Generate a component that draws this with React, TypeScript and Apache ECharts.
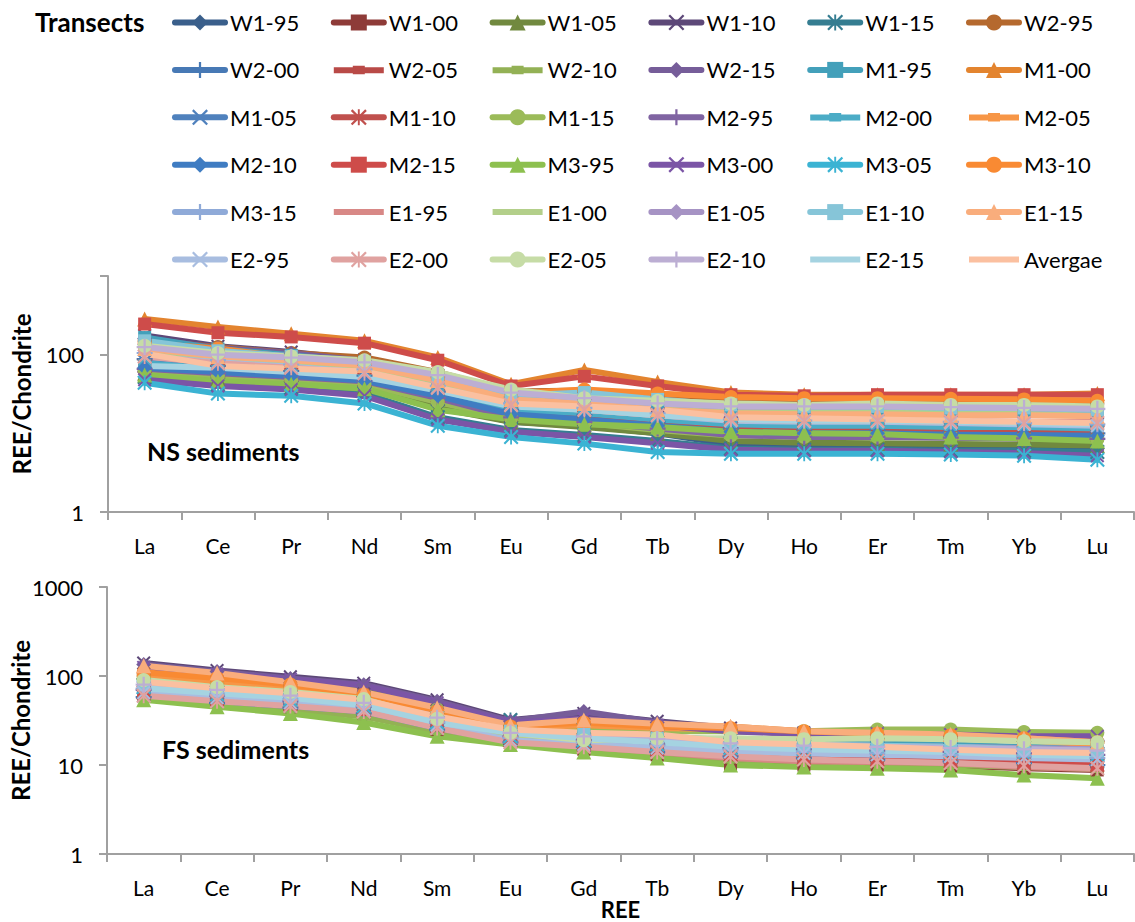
import React, { useEffect, useRef } from "react";
import * as echarts from "echarts";

// ---------- categories ----------
const categories = ["La", "Ce", "Pr", "Nd", "Sm", "Eu", "Gd", "Tb", "Dy", "Ho", "Er", "Tm", "Yb", "Lu"];

const seriesNames = [
  "W1-95", "W1-00", "W1-05", "W1-10", "W1-15", "W2-95",
  "W2-00", "W2-05", "W2-10", "W2-15", "M1-95", "M1-00",
  "M1-05", "M1-10", "M1-15", "M2-95", "M2-00", "M2-05",
  "M2-10", "M2-15", "M3-95", "M3-00", "M3-05", "M3-10",
  "M3-15", "E1-95", "E1-00", "E1-05", "E1-10", "E1-15",
  "E2-95", "E2-00", "E2-05", "E2-10", "E2-15", "Avergae",
];

const seriesColors = [
  "#3A5F8B", "#8E3B38", "#71893F", "#5D4878", "#357D91", "#B5692E",
  "#4779B5", "#B94A47", "#93B155", "#765D99", "#43A0BA", "#E3842F",
  "#4F81BD", "#C0504D", "#9BBB59", "#8064A2", "#4BACC6", "#F79646",
  "#3F7CC2", "#CE4C4A", "#8DC04F", "#7B55A6", "#3BB3D3", "#F98A33",
  "#8FAAD8", "#D88886", "#B3CF8A", "#A693C4", "#86C5D8", "#F9AD7C",
  "#A8BDE0", "#E0A2A0", "#C6DCA6", "#BCAED3", "#A5D3E1", "#FBC0A0",
];

const seriesMarkers = [
  "diamond", "square", "triangle", "x", "star", "circle",
  "plus", "dash", "dash", "diamond", "square", "triangle",
  "x", "star", "circle", "plus", "dash", "dash",
  "diamond", "square", "triangle", "x", "star", "circle",
  "plus", "none", "none", "diamond", "square", "triangle",
  "x", "star", "circle", "plus", "none", "none",
];

// ---------- NS sediments (REE/Chondrite) ----------
const ns_W1_95 = [60, 52, 46, 40, 23, 14, 12.5, 10, 7.2, 6.8, 6.6, 6.4, 6.5, 6.4];
const ns_W1_00 = [70, 60, 53, 45, 29, 17, 15, 12.5, 10.5, 10, 10, 9.8, 9.5, 9.4];
const ns_W1_05 = [58, 50, 45, 39, 21, 14, 12, 10, 8, 7.6, 7.5, 7.3, 7.2, 7];
const ns_W1_10 = [175, 128, 108, 86, 55, 30, 28, 22, 17, 15, 14.5, 14, 13.5, 13];
const ns_W1_15 = [52, 42, 38, 32, 16, 11, 9.5, 8, 6.4, 6.2, 6.2, 6, 6, 5.8];
const ns_W2_95 = [150, 125, 105, 92, 60, 34, 35, 30, 26, 25, 25, 24, 24, 24];
const ns_W2_00 = [88, 72, 62, 54, 34, 20, 17, 14, 11.5, 11, 11, 10.5, 10.2, 10];
const ns_W2_05 = [75, 66, 58, 50, 32, 19, 17, 14, 12, 11.5, 11.5, 11, 11, 10.8];
const ns_W2_10 = [62, 55, 50, 44, 27, 16, 14, 12, 10, 9.6, 9.5, 9.3, 9, 8.8];
const ns_W2_15 = [160, 122, 104, 84, 52, 29, 27, 21, 16, 14.5, 14, 13.5, 13, 12.5];
const ns_M1_95 = [165, 118, 98, 80, 50, 28, 30, 25, 21, 20, 20, 19.5, 19, 19];
const ns_M1_00 = [285, 225, 185, 150, 92, 42, 64, 45, 33, 31, 31, 31, 31, 32];
const ns_M1_05 = [82, 68, 60, 52, 33, 19, 17, 14, 12, 11.5, 11.5, 11, 10.8, 10.5];
const ns_M1_10 = [72, 62, 55, 48, 30, 18, 16, 13.5, 11.5, 11, 11, 10.5, 10.5, 10.2];
const ns_M1_15 = [64, 54, 48, 42, 25, 15.5, 13.5, 11, 9.4, 9, 9, 8.8, 8.6, 8.4];
const ns_M2_95 = [66, 58, 52, 46, 28, 16, 14, 11.5, 9.5, 9, 9, 8.8, 8.6, 8.5];
const ns_M2_00 = [78, 66, 58, 50, 33, 20, 18, 15, 13, 12.5, 12.5, 12, 12, 11.5];
const ns_M2_05 = [130, 105, 90, 75, 48, 28, 30, 26, 23, 22, 22, 21, 21, 21];
const ns_M2_10 = [68, 60, 54, 47, 30, 17.5, 15, 12.5, 10.5, 10, 10, 9.6, 9.5, 9.3];
const ns_M2_15 = [245, 190, 168, 140, 85, 40, 53, 40, 31, 30, 31, 31, 31, 31];
const ns_M3_95 = [55, 46, 42, 37, 20, 15, 13, 12, 10.5, 10, 9.8, 9, 8.6, 8];
const ns_M3_00 = [48, 40, 36, 30, 15, 10.5, 9, 7.5, 6.2, 6, 6, 5.8, 5.6, 5.2];
const ns_M3_05 = [44, 32, 30, 24, 12.5, 9, 7.4, 5.8, 5.5, 5.5, 5.5, 5.4, 5.2, 4.6];
const ns_M3_10 = [140, 120, 92, 78, 50, 32, 36, 32, 29, 28, 28, 27.5, 27, 26];
const ns_M3_15 = [105, 85, 75, 65, 40, 24, 21, 18, 15, 14.5, 14.5, 14, 13.5, 13];
const ns_E1_95 = [100, 82, 70, 62, 40, 24, 21, 18, 15.5, 15, 15, 14.5, 14, 14];
const ns_E1_00 = [100, 85, 75, 66, 45, 27, 25, 21, 19, 18.5, 18.5, 18, 18, 17.5];
const ns_E1_05 = [135, 108, 96, 82, 55, 33, 28, 24, 22, 22, 22, 21.5, 21, 20];
const ns_E1_10 = [150, 112, 95, 80, 52, 30, 33, 27, 23, 22, 22, 21, 21, 20];
const ns_E1_15 = [120, 95, 85, 73, 47, 27, 24, 20, 18, 17.5, 17.5, 17, 17, 16.5];
const ns_E2_95 = [95, 80, 70, 60, 38, 23, 20, 17, 14.5, 14, 14, 13.5, 13, 12.5];
const ns_E2_00 = [95, 78, 68, 58, 38, 23, 20, 17, 15, 14.5, 14.5, 14, 13.5, 13.5];
const ns_E2_05 = [130, 105, 95, 85, 60, 36, 28, 26, 24, 23, 24, 23, 23, 22];
const ns_E2_10 = [125, 100, 92, 80, 55, 33, 28, 24, 22, 22, 22, 21.5, 21, 20.5];
const ns_E2_15 = [72, 68, 60, 52, 35, 22, 20, 17, 15, 14.5, 14.5, 14, 13.5, 13];
const ns_Avergae = [103, 72, 66, 61, 38, 24, 22, 20, 16, 15.5, 15, 14.5, 14, 13.5];

// ---------- FS sediments (REE/Chondrite) ----------
const fs_W1_95 = [56, 48, 42, 36, 24, 17, 15, 13.5, 12, 11.5, 11, 10.5, 10, 9.5];
const fs_W1_00 = [62, 52, 45, 38, 25, 18, 15, 13, 10.2, 10, 10, 9.8, 9.2, 8.8];
const fs_W1_05 = [110, 92, 85, 70, 45, 28, 27, 25, 24, 23, 24, 24, 22, 22];
const fs_W1_10 = [140, 115, 98, 83, 54, 32, 38, 31, 26, 23, 23, 22, 21, 20];
const fs_W1_15 = [80, 66, 58, 50, 34, 32, 25, 21, 17, 16, 15.5, 15, 14, 13.5];
const fs_W2_95 = [105, 90, 78, 64, 42, 27, 29, 26, 25, 23, 22, 21, 19, 18];
const fs_W2_00 = [58, 50, 44, 38, 25, 18, 16, 14, 12.5, 12, 11.5, 11, 10.5, 10];
const fs_W2_05 = [68, 58, 50, 43, 28, 20, 17.5, 15.5, 13, 12.5, 12, 11.5, 11, 10.5];
const fs_W2_10 = [58, 48, 42, 35, 24, 17, 15, 13, 11.5, 11, 10.5, 10, 9.5, 9];
const fs_W2_15 = [135, 112, 94, 80, 52, 31, 40, 30, 25, 22, 22, 21, 20, 19];
const fs_M1_95 = [85, 72, 62, 52, 36, 25, 23, 21, 19, 18, 17.5, 17, 16, 15.5];
const fs_M1_00 = [120, 100, 82, 64, 42, 27, 31, 28, 27, 24, 23, 22, 19.5, 17.5];
const fs_M1_05 = [60, 52, 46, 40, 26, 18.5, 16.5, 14.5, 13, 12.5, 12, 11.5, 11, 10.5];
const fs_M1_10 = [65, 55, 48, 41, 27, 19, 17, 15, 13, 12, 11.5, 11, 10.5, 10];
const fs_M1_15 = [95, 80, 72, 62, 42, 26, 26, 24, 24, 24, 25, 25, 23.5, 23];
const fs_M2_95 = [70, 60, 52, 45, 30, 21, 19, 17, 15.5, 15, 14.5, 14, 13.5, 13];
const fs_M2_00 = [70, 60, 52, 44, 28, 20, 18, 16, 14.5, 14, 13.5, 13, 12.5, 12];
const fs_M2_05 = [100, 85, 75, 60, 40, 26, 28, 26, 25, 23, 22, 21, 19, 17];
const fs_M2_10 = [64, 55, 48, 41, 27, 19, 17, 15, 13.5, 13, 12.5, 12, 11.5, 11];
const fs_M2_15 = [66, 56, 48, 42, 28, 20, 17, 15, 13, 12, 11.5, 11, 10.5, 10];
const fs_M3_95 = [54, 45, 38, 30, 21, 17, 14, 12, 10, 9.5, 9.2, 8.8, 7.7, 7.1];
const fs_M3_00 = [125, 105, 92, 78, 50, 30, 33, 28, 24, 22, 22.5, 22, 21, 21];
const fs_M3_05 = [75, 62, 54, 46, 30, 21, 19, 17, 15.5, 15, 14.5, 14, 13.5, 13];
const fs_M3_10 = [110, 95, 80, 62, 40, 27, 30, 27, 26, 24, 22.5, 21.5, 20, 18];
const fs_M3_15 = [72, 62, 55, 46, 30, 20, 18, 16.5, 15, 14, 13.5, 13, 12.5, 12];
const fs_E1_95 = [62, 54, 47, 40, 27, 19, 16, 14, 12, 11, 10.8, 10.5, 9.5, 9];
const fs_E1_00 = [78, 66, 58, 48, 32, 22, 20, 19, 17, 16, 15.5, 15, 14.5, 14];
const fs_E1_05 = [85, 72, 62, 52, 35, 24, 22, 20, 18, 17, 16.5, 16, 15.5, 15];
const fs_E1_10 = [80, 68, 58, 50, 34, 24, 22, 20, 18, 17, 16.5, 16, 15, 14.5];
const fs_E1_15 = [130, 108, 85, 66, 44, 28, 32, 29, 27, 24, 23, 22, 20, 18];
const fs_E2_95 = [65, 57, 50, 42, 28, 19, 17, 15.5, 14, 13.5, 13, 12.5, 12, 11.5];
const fs_E2_00 = [60, 52, 46, 40, 26, 18, 16, 14, 12.5, 11.5, 11, 10.5, 9.8, 9.2];
const fs_E2_05 = [90, 75, 66, 55, 33, 23, 19, 20, 20, 19.5, 20, 19.5, 18.5, 18];
const fs_E2_10 = [80, 70, 60, 50, 34, 23, 21, 19.5, 17.5, 16.5, 16, 15.5, 15, 14.5];
const fs_E2_15 = [73, 64, 57, 47, 30, 23, 20, 18, 16, 15, 14.5, 14, 13, 12.5];
const fs_Avergae = [86, 73, 64, 54, 35, 25, 23, 22, 18, 17, 16, 14.8, 14, 13.6];

const nsData = [
  ns_W1_95, ns_W1_00, ns_W1_05, ns_W1_10, ns_W1_15, ns_W2_95,
  ns_W2_00, ns_W2_05, ns_W2_10, ns_W2_15, ns_M1_95, ns_M1_00,
  ns_M1_05, ns_M1_10, ns_M1_15, ns_M2_95, ns_M2_00, ns_M2_05,
  ns_M2_10, ns_M2_15, ns_M3_95, ns_M3_00, ns_M3_05, ns_M3_10,
  ns_M3_15, ns_E1_95, ns_E1_00, ns_E1_05, ns_E1_10, ns_E1_15,
  ns_E2_95, ns_E2_00, ns_E2_05, ns_E2_10, ns_E2_15, ns_Avergae,
];
const fsData = [
  fs_W1_95, fs_W1_00, fs_W1_05, fs_W1_10, fs_W1_15, fs_W2_95,
  fs_W2_00, fs_W2_05, fs_W2_10, fs_W2_15, fs_M1_95, fs_M1_00,
  fs_M1_05, fs_M1_10, fs_M1_15, fs_M2_95, fs_M2_00, fs_M2_05,
  fs_M2_10, fs_M2_15, fs_M3_95, fs_M3_00, fs_M3_05, fs_M3_10,
  fs_M3_15, fs_E1_95, fs_E1_00, fs_E1_05, fs_E1_10, fs_E1_15,
  fs_E2_95, fs_E2_00, fs_E2_05, fs_E2_10, fs_E2_15, fs_Avergae,
];

const topTickLabels = ["1", "100"];
const bottomTickLabels = ["1", "10", "100", "1000"];

// ---------- styling ----------
const FONT = "Lato";
const AXIS_GRAY = "#A0A0A0";

const X_PATH = "path://M1,0L5,4L9,0L10,1L6,5L10,9L9,10L5,6L1,10L0,9L4,5L0,1Z";
const STAR_PATH =
  "path://M1,0L5,4L9,0L10,1L6,5L10,9L9,10L5,6L1,10L0,9L4,5L0,1Z M4.4,0L5.6,0L5.6,10L4.4,10Z";
const PLUS_PATH = "path://M4.3,0H5.7V4.3H10V5.7H5.7V10H4.3V5.7H0V4.3H4.3Z";

function markerSymbol(kind: string): { symbol: string; size: number | number[] } {
  switch (kind) {
    case "diamond": return { symbol: "diamond", size: 15 };
    case "square": return { symbol: "rect", size: 13 };
    case "triangle": return { symbol: "triangle", size: 15 };
    case "x": return { symbol: X_PATH, size: 14 };
    case "star": return { symbol: STAR_PATH, size: 15 };
    case "circle": return { symbol: "circle", size: 14 };
    case "plus": return { symbol: PLUS_PATH, size: 16 };
    case "dash": return { symbol: "rect", size: [13, 8] };
    default: return { symbol: "none", size: 0 };
  }
}

const LINE_ICON = "path://M0,0H50V6H0Z";
const DASH_ICON = "path://M0,6H50V12H0Z M19,4.5H31V13H19Z";

export default function App() {
  const ref = useRef<HTMLDivElement>(null);

  useEffect(() => {
    if (!ref.current) return;
    const chart = echarts.init(ref.current, undefined, { renderer: "svg" });

    const series: any[] = [];
    [nsData, fsData].forEach((panel, p) => {
      panel.forEach((vals, i) => {
        const m = markerSymbol(seriesMarkers[i]);
        series.push({
          type: "line",
          name: seriesNames[i],
          xAxisIndex: p,
          yAxisIndex: p,
          data: vals,
          symbol: m.symbol,
          symbolSize: m.size,
          showSymbol: m.symbol !== "none",
          lineStyle: { color: seriesColors[i], width: 6, cap: "round", join: "round" },
          itemStyle: { color: seriesColors[i], borderWidth: 0 },
          emphasis: { disabled: true },
          silent: true,
        });
      });
    });

    const legends = [0, 1, 2, 3, 4, 5].map((col) => ({
      orient: "vertical",
      left: 172 + col * 158.8,
      top: 11.5,
      padding: 0,
      itemWidth: 50,
      itemHeight: 20,
      itemGap: 25.4,
      selectedMode: false,
      symbolKeepAspect: true,
      itemStyle: { borderWidth: 0 },
      lineStyle: { width: 6, cap: "round" },
      textStyle: { fontFamily: FONT, fontSize: 22, color: "#000", lineHeight: 21 },
      data: seriesNames
        .map((name, i) => ({ name, i }))
        .filter((d) => d.i % 6 === col)
        .map((d) => {
          const k = seriesMarkers[d.i];
          if (k === "none") return { name: d.name, icon: LINE_ICON };
          if (k === "dash") return { name: d.name, icon: DASH_ICON };
          return { name: d.name };
        }),
    }));

    const xAxisBase = (idx: number, extra: any = {}) => ({
      type: "category",
      gridIndex: idx,
      data: categories,
      boundaryGap: true,
      axisLine: { show: true, lineStyle: { color: AXIS_GRAY, width: 2 } },
      axisTick: { show: true, length: 8, alignWithLabel: false, lineStyle: { color: AXIS_GRAY, width: 2 } },
      axisLabel: { fontFamily: FONT, fontSize: 21, color: "#000", margin: 23, interval: 0 },
      splitLine: { show: false },
      ...extra,
    });

    const yAxisBase = (idx: number, logBase: number, labels: string[]) => ({
      type: "log",
      gridIndex: idx,
      logBase,
      min: 1,
      max: 1000,
      name: "REE/Chondrite",
      nameLocation: "middle",
      nameRotate: 90,
      nameGap: 75,
      nameMoveOverlap: false,
      nameTextStyle: { fontFamily: FONT, fontSize: 24, fontWeight: "bold", color: "#000" },
      axisLine: { show: true, lineStyle: { color: AXIS_GRAY, width: 2 } },
      axisTick: { show: true, length: 8, inside: false, lineStyle: { color: AXIS_GRAY, width: 2 } },
      axisLabel: {
        fontFamily: FONT,
        fontSize: 22,
        color: "#000",
        margin: 24,
        formatter: (v: number) => {
          const s = String(Math.round(v));
          return labels.indexOf(s) >= 0 ? s : "";
        },
      },
      splitLine: { show: false },
      minorTick: { show: false },
    });

    chart.setOption({
      animation: false,
      backgroundColor: "#fff",
      textStyle: { fontFamily: FONT },
      legend: legends,
      grid: [
        { left: 108, top: 276, width: 1026, height: 236, outerBoundsMode: "none", containLabel: false },
        { left: 107, top: 587, width: 1027, height: 267, outerBoundsMode: "none", containLabel: false },
      ],
      xAxis: [
        xAxisBase(0),
        xAxisBase(1, {
          name: "REE",
          nameLocation: "middle",
          nameGap: 44,
          nameMoveOverlap: false,
          nameTextStyle: { fontFamily: FONT, fontSize: 22, fontWeight: "bold", color: "#000", lineHeight: 22 },
        }),
      ],
      yAxis: [yAxisBase(0, 100, topTickLabels), yAxisBase(1, 10, bottomTickLabels)],
      graphic: [
        {
          type: "text",
          left: 35,
          top: 9,
          style: { text: "Transects", fontFamily: FONT, fontSize: 26, fontWeight: "bold", fill: "#000" },
        },
        {
          type: "text",
          left: 147,
          top: 438,
          style: { text: "NS sediments", fontFamily: FONT, fontSize: 25, fontWeight: "bold", fill: "#000" },
        },
        {
          type: "text",
          left: 162,
          top: 736,
          style: { text: "FS sediments", fontFamily: FONT, fontSize: 25, fontWeight: "bold", fill: "#000" },
        },
      ],
      series,
    });

    return () => chart.dispose();
  }, []);

  return (
    <div
      ref={ref}
      style={{ position: "absolute", left: 0, top: 0, width: 1135, height: 922, background: "#fff" }}
    />
  );
}
